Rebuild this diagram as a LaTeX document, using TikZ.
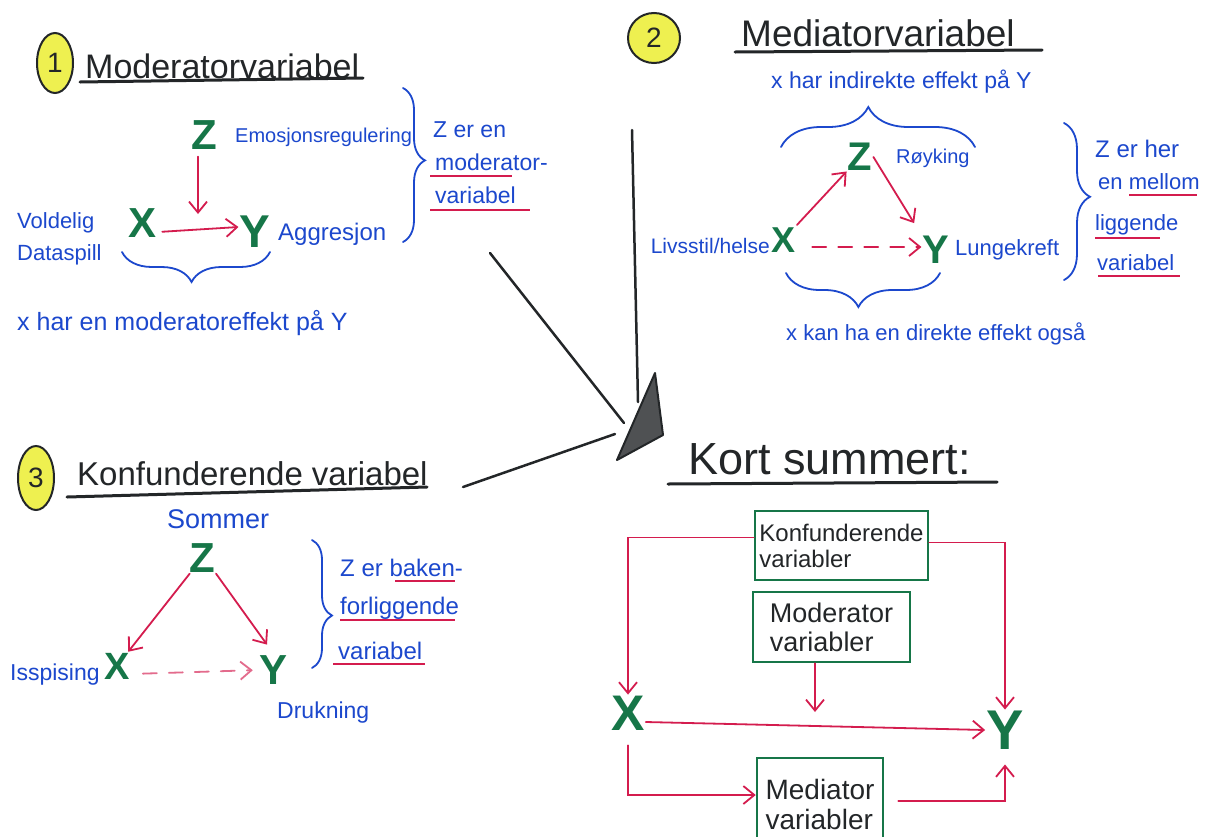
\documentclass[tikz,border=0pt]{standalone}
\usepackage{fontspec}
\setmainfont{Liberation Sans}
\usetikzlibrary{arrows.meta,decorations.pathreplacing,shapes.geometric}
\definecolor{ink}{RGB}{35,38,40}
\definecolor{grn}{RGB}{22,118,72}
\definecolor{rd}{RGB}{212,28,78}
\definecolor{blu}{RGB}{28,72,205}
\definecolor{yel}{RGB}{238,240,80}
\begin{document}
\begin{tikzpicture}[x=1pt,y=-1pt,
  hwtitle/.style={text=ink, inner sep=0pt, anchor=base west, font=\fontsize{#1}{#1}\selectfont},
  hwnote/.style={text=blu, inner sep=0pt, anchor=base west, font=\fontsize{#1}{#1}\selectfont},
  gvar/.style={text=grn, inner sep=1pt, font=\bfseries\fontsize{#1}{#1}\selectfont},
  numcirc/.style={ellipse, draw=ink, fill=yel, line width=2pt, inner sep=0pt, text=ink, font=\fontsize{28}{28}\selectfont},
  rarr/.style={draw=rd, line width=1.8pt, line cap=round, -{Straight Barb[length=11pt,width=18pt,line width=1.8pt]}},
  rdash/.style={rarr, dash pattern=on 14pt off 12pt},
  rline/.style={draw=rd, line width=1.5pt},
  uline/.style={draw=ink, line width=3pt, line cap=round},
  bline/.style={draw=ink, line width=2.5pt, line cap=round},
  brc/.style 2 args={draw=blu, line width=1.8pt, line cap=round, decorate, decoration={brace, amplitude=#1pt, aspect=#2}},
  brcm/.style 2 args={draw=blu, line width=1.8pt, line cap=round, decorate, decoration={brace, mirror, amplitude=#1pt, aspect=#2}},
  vbox/.style={draw=grn, line width=2.5pt, text=ink, align=left, inner sep=4pt}
]
\fill[white] (0,0) rectangle (1210,836);
\useasboundingbox (0,0) rectangle (1210,836);
\clip (0,0) rectangle (1210,836);

% ---------- Section 1: Moderator ----------
\node[numcirc, minimum width=36, minimum height=60] (c1) at (55,63) {1};
\node[hwtitle=34] (t1) at (85,78) {Moderatorvariabel};
\draw[uline] (80,82) -- (363,78);
\node[gvar=42] (Z1) at (204,135) {Z};
\node[hwnote=20] (e1) at (235,142) {Emosjonsregulering};
\node[gvar=42] (X1) at (143,223) {X};
\node[gvar=46] (Y1) at (255,232) {Y};
\node[hwnote=22] (v1) at (17,228) {Voldelig};
\node[hwnote=22] (v2) at (17,260) {Dataspill};
\node[hwnote=24] (a1) at (278,240) {Aggresjon};
\coordinate (m1) at (198,214);
\draw[rarr, shorten <=6pt] (Z1.south -| m1) -- (m1);
\draw[rarr, shorten <=4pt] ([yshift=-9pt]X1.east) -- ([yshift=5pt]Y1.west);
\draw[brcm={30}{0.47}] (122,252) -- (270,252);
\node[hwnote=25] (n1) at (17,330) {x har en moderatoreffekt på Y};
\draw[brc={22}{0.47}] (403,88) -- (403,242);
\node[hwnote=23] (z1a) at (433,137) {Z er en};
\node[hwnote=23] (z1b) at (435,170) {moderator-};
\node[hwnote=23] (z1c) at (435,203) {variabel};
\draw[rline] (430,176) -- (512,176);
\draw[rline] (430,210) -- (530,210);

% ---------- Section 2: Mediator ----------
\node[numcirc, minimum width=52, minimum height=50] (c2) at (654,38) {2};
\node[hwtitle=37] (t2) at (741,46) {Mediatorvariabel};
\draw[uline] (735,52) -- (1042,50);
\node[hwnote=23] (n2a) at (771,88) {x har indirekte effekt på Y};
\draw[brc={40}{0.45}] (781,147) -- (975,147);
\node[gvar=40] (Z2) at (860,157) {Z};
\node[hwnote=20] (r2) at (896,163) {Røyking};
\node[gvar=36] (X2) at (783,240) {X};
\node[hwnote=21, anchor=base east] (l2) at (770,253) {Livsstil/helse};
\node[gvar=40] (Y2) at (936,250) {Y};
\node[hwnote=22] (k2) at (955,255) {Lungekreft};
\draw[rarr, shorten <=2pt] (X2) -- (Z2);
\draw[rarr, shorten >=14pt] (Z2.east) -- (Y2.north west);
\draw[rdash, shorten <=16pt] ([yshift=-7pt]X2.east) -- ([yshift=3pt]Y2.west);
\draw[brcm={34}{0.47}] (786,273) -- (940,273);
\node[hwnote=22] (n2b) at (786,340) {x kan ha en direkte effekt også};
\draw[brc={26}{0.47}] (1064,123) -- (1064,280);
\node[hwnote=24] (z2a) at (1095,157) {Z er her};
\node[hwnote=22] (z2b) at (1098,189) {en mellom};
\node[hwnote=22] (z2c) at (1095,230) {liggende};
\node[hwnote=22] (z2d) at (1097,270) {variabel};
\draw[rline] (1129,195) -- (1197,195);
\draw[rline] (1095,238) -- (1160,238);
\draw[rline] (1098,276) -- (1180,276);

% ---------- Section 3: Konfunderende ----------
\node[numcirc, minimum width=36, minimum height=64] (c3) at (36,478) {3};
\node[hwtitle=33] (t3) at (77,485) {Konfunderende variabel};
\draw[uline] (67,497) -- (427,487);
\node[hwnote=27] (s3) at (167,528) {Sommer};
\node[gvar=42] (Z3) at (202,558) {Z};
\node[gvar=38] (X3) at (117,666) {X};
\node[gvar=42] (Y3) at (274,670) {Y};
\node[hwnote=23] (i3) at (10,680) {Isspising};
\node[hwnote=23] (d3) at (277,718) {Drukning};
\draw[rarr] (Z3) -- (X3);
\draw[rarr, shorten >=12pt] (Z3.south east) -- (Y3.north);
\draw[rdash, draw=rd!65, shorten <=12pt, shorten >=6pt] ([yshift=-8pt]X3.east) -- (Y3.west);
\draw[brc={20}{0.59}] (312,540) -- (312,668);
\node[hwnote=24] (z3a) at (340,576) {Z er baken-};
\node[hwnote=24] (z3b) at (340,614) {forliggende};
\node[hwnote=24] (z3c) at (338,659) {variabel};
\draw[rline] (395,581) -- (455,581);
\draw[rline] (340,620) -- (455,620);
\draw[rline] (333,664) -- (425,664);

% ---------- Centre pointer ----------
\coordinate (p1a) at (490,253); \coordinate (p1b) at (624,423);
\coordinate (p2a) at (632,130); \coordinate (p2b) at (638,402);
\coordinate (p3a) at (463,487); \coordinate (p3b) at (615,434);
\draw[bline] (p1a) -- (p1b);
\draw[bline] (p2a) -- (p2b);
\draw[bline] (p3a) -- (p3b);
\filldraw[draw=ink, fill=ink!80, line width=2pt, line join=round] (655,373) -- (617,460) -- (663,435) -- cycle;

% ---------- Section 4: Kort summert ----------
\node[hwtitle=45] (t4) at (688,474) {Kort summert:};
\draw[uline] (668,484) -- (997,482);
\node[vbox, minimum width=173, minimum height=69, font=\fontsize{24}{26}\selectfont] (konf) at (841.5,545.5) {Konfunderende\\variabler};
\node[vbox, minimum width=157, minimum height=70, font=\fontsize{27}{29}\selectfont] (mod) at (831.5,627) {Moderator\\variabler};
\node[vbox, minimum width=126, minimum height=92, font=\fontsize{28}{30}\selectfont] (med) at (820,804) {Mediator\\variabler};
\node[gvar=50] (X4) at (628,713) {X};
\node[gvar=56] (Y4) at (1005,730) {Y};
\coordinate (m4) at (815,712);
\draw[rarr] ([yshift=8pt]konf.west) -| (X4.north);
\draw[rarr] ([yshift=3pt]konf.east) -| (Y4.north);
\draw[rarr] (mod.south -| m4) -- (m4);
\draw[rarr] ([yshift=-9pt]X4.east) -- (Y4.west);
\draw[rarr, shorten <=14pt] (X4.south) |- ([yshift=9pt]med.west);
\draw[rarr, shorten <=14pt, shorten >=14pt] ([yshift=3pt]med.east) -| (Y4.south);
\end{tikzpicture}
\end{document}
